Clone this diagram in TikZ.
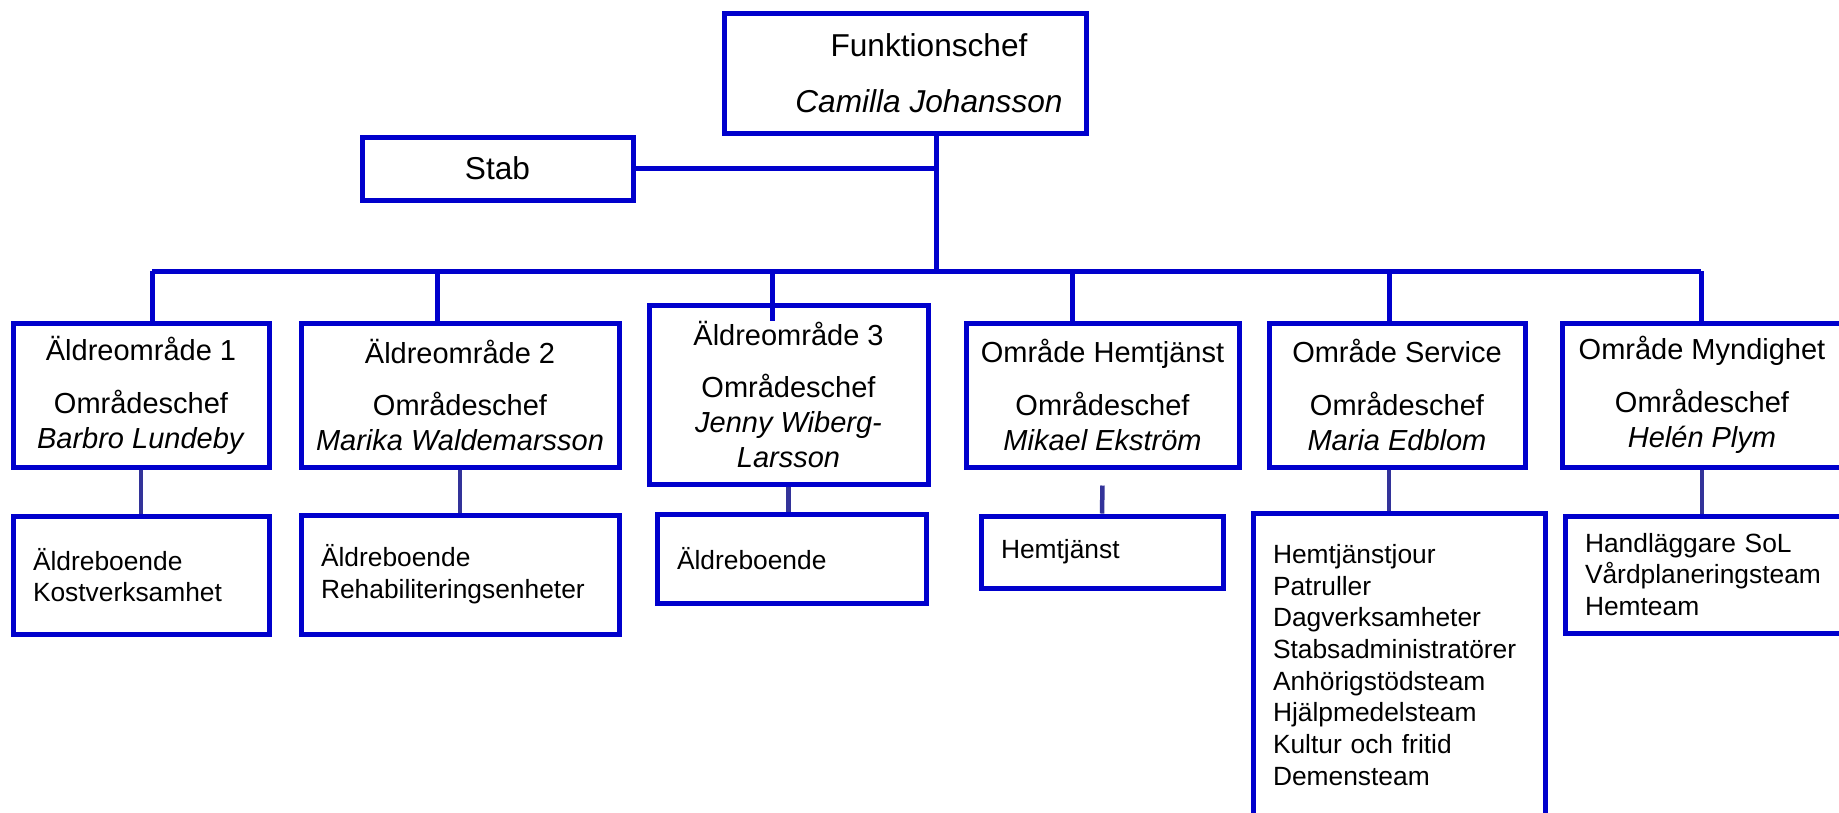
\documentclass[tikz,border=0pt]{standalone}
\usepackage{fontspec}
\setmainfont{Liberation Sans}
\usepackage{tikz}
\definecolor{boxblue}{RGB}{0,0,204}
\definecolor{linkblue}{RGB}{51,51,153}
\newcommand{\chefsize}{\fontsize{9}{10.8}\selectfont}
\newcommand{\omradesize}{\fontsize{8.25}{9.96}\selectfont}
\newcommand{\enhetsize}{\fontsize{7.5}{9.02}\selectfont}

\begin{document}
\begin{tikzpicture}[x=0.1mm,y=-0.1mm,
	box/.style={draw=boxblue,line width=0.5mm,fill=white,inner sep=0pt},
	chefbox/.style={box,align=center,font=\chefsize},
	omradebox/.style={box,align=center,font=\omradesize,minimum height=14.4mm},
	enhetbox/.style={box,align=left,inner xsep=2mm,font=\enhetsize},
	conn/.style={draw=boxblue,line width=0.5mm},
	link/.style={draw=linkblue,line width=0.45mm}]
	\useasboundingbox (0,0) rectangle (1839,812);
	% ledning
	\node[chefbox,minimum width=36.2mm,minimum height=12mm] (chef) at (905,73) {\hspace*{4.8mm}Funktionschef\\[5.1pt]\hspace*{4.8mm}\textit{Camilla Johansson}};
	\node[chefbox,minimum width=27.1mm,minimum height=6.3mm] (stab) at (497.5,168.5) {Stab};
	% omraden
	\node[omradebox,minimum width=25.6mm] (a1) at (141,395) {Äldreområde 1\\[5.1pt]Områdeschef\\\textit{Barbro Lundeby}};
	\node[omradebox,minimum width=31.8mm] (a2) at (460,395) {Äldreområde 2\\[5.1pt]Områdeschef\\\textit{Marika Waldemarsson}};
	\node[omradebox,minimum width=27.9mm,minimum height=17.9mm] (a3) at (788.5,394.5) {Äldreområde 3\\[5.1pt]Områdeschef\\\textit{Jenny Wiberg-}\\\textit{Larsson}};
	\node[omradebox,minimum width=27.3mm] (a4) at (1102.5,395) {Område Hemtjänst\\[5.1pt]Områdeschef\\\textit{Mikael Ekström}};
	\node[omradebox,minimum width=25.6mm] (a5) at (1397,395) {Område Service\\[5.1pt]Områdeschef\\\textit{Maria Edblom}};
	\node[omradebox,minimum width=28mm] (a6) at (1702,395) {Område Myndighet\\[5.1pt]Områdeschef\\\textit{Helén Plym}};
	% enheter
	\node[enhetbox,text width=21.6mm,minimum height=11.8mm] (s1) at (141,575) {Äldreboende\\Kostverksamhet};
	\node[enhetbox,text width=27.8mm,minimum height=11.9mm] (s2) at (460,574.5) {Äldreboende\\Rehabiliteringsenheter};
	\node[enhetbox,text width=22.9mm,minimum height=8.9mm] (s3) at (791.5,558.5) {Äldreboende};
	\node[enhetbox,text width=20.2mm,minimum height=7.2mm] (s4) at (1102,552) {Hemtjänst};
	\node[enhetbox,text width=25.2mm,minimum height=30.4mm] (s5) at (1399,665) {Hemtjänstjour\\Patruller\\Dagverksamheter\\Stabsadministratörer\\Anhörigstödsteam\\Hjälpmedelsteam\\Kultur och fritid\\Demensteam};
	\node[enhetbox,text width=23.7mm,minimum height=11.7mm] (s6) at (1703.5,574.5) {Handläggare SoL\\Vårdplaneringsteam\\Hemteam};
	% linjer
	\coordinate (hub) at (936,168);
	\coordinate (bus) at (936,271);
	\coordinate (j1) at (152,271);
	\coordinate (j2) at (437,271);
	\coordinate (j3) at (772,271);
	\coordinate (j4) at (1072,271);
	\coordinate (j5) at (1389,271);
	\coordinate (j6) at (1701,271);
	\draw[conn] (chef.south -| hub) -- (bus);
	\draw[conn] (stab.east) -- (stab.east -| hub);
	\draw[conn] (j1) -- (j6);
	\foreach \i in {1,2,4,5,6}
		\draw[conn] (j\i) -- (j\i |- a\i.north);
	\draw[conn] (j3) -- ++(0,50);
	\foreach \i in {1,2,3,6}
		\draw[link] (a\i.south) -- (a\i.south |- s\i.north);
	\draw[link] ([yshift=-1.6mm]a4.south) -- (s4.north);
	\draw[link] (j5 |- a5.south) -- (j5 |- s5.north);
\end{tikzpicture}
\end{document}
